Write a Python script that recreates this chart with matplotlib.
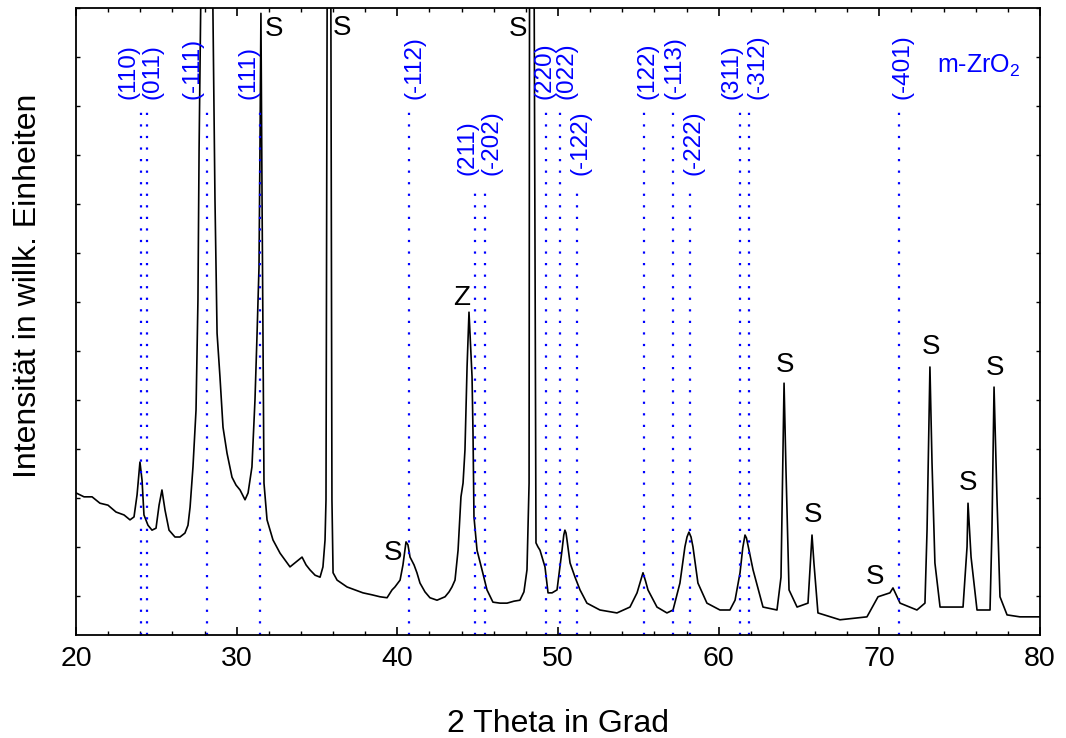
import matplotlib
matplotlib.use('Agg')
import matplotlib.pyplot as plt
from matplotlib.ticker import MultipleLocator
import numpy as np

plt.rcParams['font.family'] = ['Liberation Sans', 'DejaVu Sans']
plt.rcParams['mathtext.fontset'] = 'custom'
plt.rcParams['mathtext.rm'] = 'Liberation Sans'
plt.rcParams['mathtext.it'] = 'Liberation Sans'

# -------------------------------
# XRD pattern (2 Theta in deg, intensity a.u.)
# -------------------------------
two_theta = [20.00, 20.50, 21.00, 21.49, 21.99, 22.49, 22.99, 23.36, 23.61, 23.80,
             23.98, 24.11, 24.23, 24.48, 24.73, 24.98, 25.17, 25.35, 25.54, 25.79,
             26.16, 26.47, 26.78, 26.97, 27.10, 27.28, 27.47, 27.59, 27.66, 28.15,
             28.65, 28.78, 28.96, 29.15, 29.40, 29.71, 29.96, 30.21, 30.52, 30.71,
             30.95, 31.14, 31.27, 31.39, 31.45, 31.51, 31.58, 31.70, 31.89, 32.26,
             32.70, 33.01, 33.32, 33.69, 34.07, 34.32, 34.56, 34.88, 35.19, 35.37,
             35.50, 35.56, 35.75, 35.93, 36.00, 36.25, 36.87, 37.36, 37.86, 38.42,
             38.92, 39.36, 39.67, 39.85, 40.17, 40.35, 40.54, 40.66, 40.79, 41.04,
             41.22, 41.41, 41.72, 42.03, 42.47, 42.97, 43.22, 43.40, 43.59, 43.78,
             43.96, 44.09, 44.21, 44.34, 44.46, 44.65, 44.71, 44.77, 44.96, 45.27,
             45.58, 45.95, 46.39, 46.83, 47.26, 47.63, 47.88, 48.07, 48.20, 48.29,
             48.57, 48.63, 48.75, 48.88, 49.19, 49.38, 49.63, 49.94, 50.25, 50.36,
             50.43, 50.50, 50.56, 50.75, 51.06, 51.37, 51.80, 52.61, 53.67, 54.48,
             54.92, 55.12, 55.29, 55.45, 55.60, 56.16, 56.78, 57.16, 57.59, 57.90,
             58.03, 58.15, 58.28, 58.40, 58.71, 59.27, 60.08, 60.70, 61.02, 61.33,
             61.50, 61.64, 61.73, 61.82, 62.14, 62.76, 63.63, 63.88, 64.07, 64.19,
             64.38, 64.88, 65.56, 65.81, 65.93, 66.18, 67.55, 69.23, 69.92, 70.29,
             70.66, 70.85, 71.29, 72.34, 72.84, 72.97, 73.15, 73.28, 73.46, 73.78,
             75.21, 75.46, 75.52, 75.71, 76.08, 76.89, 77.01, 77.14, 77.32, 77.51,
             77.95, 78.75, 80.00]
intensity = [290, 282, 282, 269, 265, 251, 245, 235, 241, 286,
             353, 316, 245, 224, 214, 218, 265, 296, 255, 214,
             200, 200, 208, 224, 261, 343, 459, 684, 990, 2400,
             888, 616, 527, 424, 371, 322, 306, 296, 276, 290,
             343, 480, 616, 751, 990, 1269, 888, 310, 235, 194,
             167, 153, 139, 149, 159, 143, 133, 122, 118, 139,
             194, 276, 3000, 276, 127, 112, 98, 92, 86, 82,
             78, 76, 92, 98, 112, 143, 190, 184, 159, 143,
             127, 106, 88, 76, 71, 78, 88, 98, 112, 173,
             282, 310, 378, 547, 659, 527, 412, 241, 173, 133,
             92, 67, 65, 65, 69, 71, 88, 133, 310, 3500,
             786, 188, 180, 173, 139, 86, 86, 92, 173, 204,
             214, 208, 194, 147, 118, 92, 65, 51, 45, 57,
             86, 108, 127, 110, 92, 57, 45, 51, 106, 180,
             200, 210, 200, 180, 106, 65, 51, 51, 71, 127,
             178, 204, 198, 184, 133, 57, 51, 118, 514, 337,
             92, 57, 65, 204, 147, 45, 31, 37, 78, 82,
             86, 96, 65, 51, 65, 214, 547, 351, 147, 57,
             57, 180, 269, 159, 51, 51, 214, 506, 282, 78,
             41, 37, 37]

# m-ZrO2 reference reflections
refl_pos = [24.05, 24.42, 28.15, 31.45, 40.72, 44.83, 45.46, 49.25,
            50.12, 51.18, 55.35, 57.16, 58.22, 61.33, 61.89, 71.22]
refl_hkl = ['(110)', '(011)', '(-111)', '(111)', '(-112)', '(211)', '(-202)', '(220)',
            '(022)', '(-122)', '(122)', '(-113)', '(-222)', '(311)', '(-312)', '(-401)']
refl_low = [0, 0, 0, 0, 0, 1, 1, 0, 0, 1, 0, 0, 1, 0, 0, 0]
label_shift = [-0.81, 0.37, -0.87, -0.74, 0.32, -0.49, 0.43, -0.12,
               0.38, 0.19, 0.25, 0.12, 0.24, -0.56, 0.50, 0.25]

# peak annotations (S = substrate, Z = other phase)
peak_text = ['S', 'S', 'S', 'S', 'Z', 'S', 'S', 'S', 'S', 'S', 'S']
peak_x = [32.32, 36.56, 47.51, 39.73, 44.02, 64.13, 65.87, 69.73, 73.21, 75.52, 77.20]
peak_y = [1237, 1239, 1237, 167, 688, 551, 245, 118, 588, 310, 545]

fig = plt.figure(figsize=(10.66, 7.38), dpi=100)
ax = fig.add_axes([0.0713, 0.1396, 0.9043, 0.8496])

ax.plot(two_theta, intensity, color='black', lw=1.2)

for p, hkl, low, dx in zip(refl_pos, refl_hkl, refl_low, label_shift):
    top = 914 if low else 1071
    ax.plot([p, p], [0, top], color='#0000ff', lw=1.6, ls=(0, (1, 4.2)))
    ax.text(p + dx, top + 24, hkl, rotation=90, ha='center', va='bottom',
            color='#0000ff', fontsize=17.5)

for t, x, y in zip(peak_text, peak_x, peak_y):
    ax.text(x, y, t, ha='center', va='center', fontsize=20)

ax.text(73.59, 1147, 'm-ZrO$_2$', color='#0000ff', fontsize=18, ha='left', va='baseline')

ax.set_xlim(20, 80)
ax.set_ylim(0, 1280)
ax.xaxis.set_major_locator(MultipleLocator(10))
ax.xaxis.set_minor_locator(MultipleLocator(2))
ax.set_yticks(np.arange(80, 1281, 100))
ax.tick_params(axis='x', which='both', direction='in', top=True, labelsize=20.5, pad=8)
ax.tick_params(axis='x', which='major', length=6, width=1.2)
ax.tick_params(axis='x', which='minor', length=3, width=1.0)
ax.tick_params(axis='y', which='both', direction='in', right=True, labelleft=False,
               length=3, width=1.0)
for s in ax.spines.values():
    s.set_linewidth(1.3)

fig.text(558 / 1066, 0.008, '2 Theta in Grad', ha='center', va='baseline', fontsize=23)
fig.text(28 / 1066, 1 - 286 / 738, 'Intensität in willk. Einheiten', rotation=90,
         ha='center', va='center', fontsize=23)

fig.savefig('out.png', dpi=100)
